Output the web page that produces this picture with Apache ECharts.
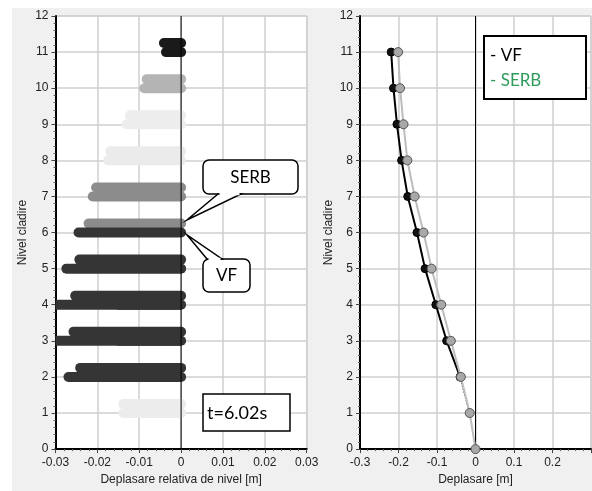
<!DOCTYPE html>
<html>
<head>
<meta charset="utf-8">
<script src="https://cdn.jsdelivr.net/npm/echarts@6/dist/echarts.min.js"></script>
<style>
  html, body { margin: 0; padding: 0; background: #fff; }
  #chart { width: 592px; height: 491px; }
</style>
</head>
<body>
<div id="chart"></div>
<script>
// Storey drift per level (left panel): two rows per storey, VF below, SERB above
const storeys = [1, 2, 3, 4, 5, 6, 7, 8, 9, 10, 11];
const vfDrift   = [-0.0138, -0.0269, -0.0320, -0.0320, -0.0274, -0.0245, -0.0211, -0.0174, -0.0130, -0.0088, -0.0036];
const serbDrift = [-0.0138, -0.0241, -0.0257, -0.0253, -0.0243, -0.0221, -0.0203, -0.0169, -0.0122, -0.0082, -0.0041];
const vfShade   = ['#ececec', '#353535', '#353535', '#353535', '#353535', '#353535', '#8c8c8c', '#ebebeb', '#ededed', '#b4b4b4', '#1a1a1a'];
const serbShade = ['#ececec', '#353535', '#353535', '#353535', '#353535', '#8c8c8c', '#8c8c8c', '#ebebeb', '#ededed', '#b4b4b4', '#1a1a1a'];

// Storey displacement profile (right panel)
const levels    = [0, 1, 2, 3, 4, 5, 6, 7, 8, 9, 10, 11];
const serbDisp  = [0, -0.015, -0.038, -0.064, -0.089, -0.114, -0.135, -0.158, -0.177, -0.187, -0.196, -0.201];
const vfDisp    = [null, -0.015, -0.040, -0.075, -0.103, -0.131, -0.152, -0.176, -0.192, -0.204, -0.213, -0.219];

const driftTicks = [-0.03, 0.03, 0.01];
const dispTicks  = [-0.3, 0.3, 0.1];
const levelTicks = [0, 12, 1];

const ROW_OFFSET = 0.25;   // SERB row sits slightly above the VF row
const ROW_WIDTH = 10;

const chart = echarts.init(document.getElementById('chart'), null, { renderer: 'canvas' });

function xAxisCfg(grid, ticks, name, hideMax) {
  return {
    gridIndex: grid, type: 'value', min: ticks[0], max: ticks[1], interval: ticks[2],
    name: name, nameLocation: 'middle', nameGap: 22,
    nameTextStyle: { fontSize: 12, color: '#222', fontFamily: 'Liberation Sans' },
    axisLine: { show: true, onZero: false, lineStyle: { color: '#000', width: 2 } },
    axisTick: { show: true, length: 4, lineStyle: { color: '#444' } },
    minorTick: { show: true, splitNumber: 5, length: 2, lineStyle: { color: '#666' } },
    minorSplitLine: { show: false },
    axisLabel: { fontSize: 12, color: '#222', margin: 8, fontFamily: 'Liberation Sans', showMaxLabel: !hideMax },
    splitLine: { show: true, lineStyle: { color: '#cfcfcf', width: 1.5 } }
  };
}
function yAxisCfg(grid, gap) {
  return {
    gridIndex: grid, type: 'value', min: levelTicks[0], max: levelTicks[1], interval: levelTicks[2],
    name: 'Nivel cladire', nameLocation: 'middle', nameGap: gap, nameRotate: 90,
    nameTextStyle: { fontSize: 12, color: '#222', fontFamily: 'Liberation Sans' },
    axisLine: { show: true, onZero: false, lineStyle: { color: '#000', width: 2 } },
    axisTick: { show: true, length: 4, lineStyle: { color: '#444' } },
    minorTick: { show: true, splitNumber: 5, length: 2, lineStyle: { color: '#666' } },
    axisLabel: { fontSize: 12, color: '#222', margin: 7, fontFamily: 'Liberation Sans' },
    splitLine: { show: true, lineStyle: { color: '#cfcfcf', width: 1.5 } }
  };
}

const series = [];

// One drift row from its value to zero. Rows running past the axis minimum are
// cut flat at the axis; a short round-capped piece keeps the rounded end at zero.
function driftRow(value, y, color, z) {
  const lo = driftTicks[0];
  const base = { type: 'line', xAxisIndex: 0, yAxisIndex: 0, showSymbol: false, silent: true, z: z };
  if (value >= lo) {
    series.push(Object.assign({}, base, {
      data: [[value, y], [0, y]], lineStyle: { color: color, width: ROW_WIDTH, cap: 'round' }
    }));
  } else {
    series.push(Object.assign({}, base, {
      data: [[lo, y], [0, y]], lineStyle: { color: color, width: ROW_WIDTH, cap: 'butt' }
    }));
    series.push(Object.assign({}, base, {
      data: [[lo / 2, y], [0, y]], lineStyle: { color: color, width: ROW_WIDTH, cap: 'round' }
    }));
  }
}

// SERB rows first, VF rows drawn over them
storeys.forEach((s, i) => driftRow(serbDrift[i], s + ROW_OFFSET, serbShade[i], 2));
storeys.forEach((s, i) => driftRow(vfDrift[i], s, vfShade[i], 3));

// zero reference lines
series.push({
  type: 'line', xAxisIndex: 0, yAxisIndex: 0, showSymbol: false, silent: true,
  data: [[0, levelTicks[0]], [0, levelTicks[1]]], lineStyle: { color: '#000', width: 1 }, z: 6
});
series.push({
  type: 'line', xAxisIndex: 1, yAxisIndex: 1, showSymbol: false, silent: true,
  data: [[0, levelTicks[0]], [0, levelTicks[1]]], lineStyle: { color: '#000', width: 1 }, z: 2
});

// VF profile: solid from level 2 upward, dotted down to level 1
const vfPts = levels.map((l, i) => [vfDisp[i], l]).filter(p => p[0] !== null);
series.push({
  type: 'line', xAxisIndex: 1, yAxisIndex: 1, showSymbol: false, silent: true,
  data: vfPts.slice(0, 2), lineStyle: { color: '#222', width: 1.5, type: 'dotted' }, z: 3
});
series.push({
  type: 'line', name: 'VF', xAxisIndex: 1, yAxisIndex: 1, silent: true,
  data: vfPts.slice(1), symbol: 'circle', symbolSize: 8,
  itemStyle: { color: '#111', borderColor: '#000', borderWidth: 1 },
  lineStyle: { color: '#000', width: 2 }, z: 4
});
series.push({
  type: 'line', name: 'SERB', xAxisIndex: 1, yAxisIndex: 1, silent: true,
  data: levels.map((l, i) => [serbDisp[i], l]), symbol: 'circle', symbolSize: 9,
  itemStyle: { color: '#a8a8a8', borderColor: '#555', borderWidth: 1 },
  lineStyle: { color: '#bdbdbd', width: 2 }, z: 5
});

const boxStyle = { fill: '#fff', stroke: '#000', lineWidth: 1.5 };
const noteFont = 'Lato';

// speech-bubble callout: rounded box, pointer triangle, white seam over the box edge
function callout(x, y, w, h, tail, seam) {
  return [
    { type: 'rect', z: 100, shape: { x: x, y: y, width: w, height: h, r: 6 }, style: boxStyle },
    { type: 'polygon', z: 101, shape: { points: tail }, style: boxStyle },
    { type: 'line', z: 102, shape: seam, style: { stroke: '#fff', lineWidth: 2.5 } }
  ];
}

const option = {
  animation: false,
  backgroundColor: '#f0f0f0',
  grid: [
    { left: 55.5, top: 16, width: 251.2, height: 436, show: true, backgroundColor: '#fff', borderColor: '#c8c8c8', borderWidth: 1 },
    { left: 360, top: 16, width: 231, height: 436, show: true, backgroundColor: '#fff', borderColor: '#c8c8c8', borderWidth: 1 }
  ],
  xAxis: [
    xAxisCfg(0, driftTicks, 'Deplasare relativa de nivel [m]', false),
    xAxisCfg(1, dispTicks, 'Deplasare [m]', true)
  ],
  yAxis: [yAxisCfg(0, 27), yAxisCfg(1, 25)],
  series: series,
  graphic: [
    { type: 'rect', shape: { x: 0, y: 0, width: 592, height: 8 }, style: { fill: '#fff' }, z: 100 },
    { type: 'rect', shape: { x: 0, y: 0, width: 12, height: 491 }, style: { fill: '#fff' }, z: 100 },
    ...callout(203, 160, 95, 34, [[218, 194], [187, 220], [241, 194]], { x1: 219.5, y1: 194, x2: 239.5, y2: 194 }),
    { type: 'text', z: 103, style: { x: 250.5, y: 177.5, text: 'SERB', fill: '#000', font: '17px ' + noteFont, textAlign: 'center', textVerticalAlign: 'middle' } },
    ...callout(203, 259, 47, 33, [[207, 259], [187, 235], [222, 259]], { x1: 208.5, y1: 259, x2: 220.5, y2: 259 }),
    { type: 'text', z: 103, style: { x: 226.5, y: 276, text: 'VF', fill: '#000', font: '17px ' + noteFont, textAlign: 'center', textVerticalAlign: 'middle' } },
    { type: 'rect', z: 100, shape: { x: 203, y: 394, width: 87, height: 37 }, style: boxStyle },
    { type: 'text', z: 101, style: { x: 207, y: 413, text: 't=6.02s', fill: '#000', font: '18px ' + noteFont, textAlign: 'left', textVerticalAlign: 'middle' } },
    { type: 'rect', z: 100, shape: { x: 484, y: 36, width: 102, height: 63 }, style: { fill: '#fff', stroke: '#000', lineWidth: 2 } },
    { type: 'text', z: 101, style: { x: 490, y: 56, text: '- VF', fill: '#000', font: '17px ' + noteFont, textAlign: 'left', textVerticalAlign: 'middle' } },
    { type: 'text', z: 101, style: { x: 490, y: 81, text: '- SERB', fill: '#2e9a5c', font: '17px ' + noteFont, textAlign: 'left', textVerticalAlign: 'middle' } }
  ]
};

chart.setOption(option);
</script>
</body>
</html>
